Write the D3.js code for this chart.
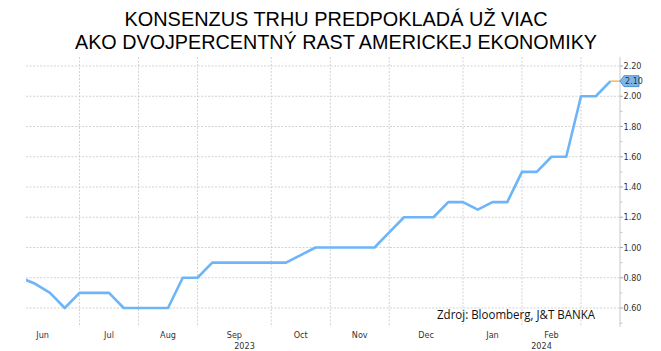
<!DOCTYPE html>
<html>
<head>
<meta charset="utf-8">
<script src="https://cdn.jsdelivr.net/npm/d3@7"></script>
<style>
  html, body { margin: 0; padding: 0; background: #fff; }
  svg { display: block; }
  .axis-text { font-family: "Liberation Sans Narrow", "Arial Narrow", "DejaVu Sans Condensed", sans-serif; font-size: 9px; fill: #333; }
</style>
</head>
<body>
<div id="chart"></div>
<script>
// weekly observations (Fridays)
const dates = [
  "2023-06-09", "2023-06-16", "2023-06-23", "2023-06-30",
  "2023-07-07", "2023-07-14", "2023-07-21", "2023-07-28",
  "2023-08-04", "2023-08-11", "2023-08-18", "2023-08-25",
  "2023-09-01", "2023-09-08", "2023-09-15", "2023-09-22", "2023-09-29",
  "2023-10-06", "2023-10-13", "2023-10-20", "2023-10-27",
  "2023-11-03", "2023-11-10", "2023-11-17", "2023-11-24",
  "2023-12-01", "2023-12-08", "2023-12-15", "2023-12-22", "2023-12-29",
  "2024-01-05", "2024-01-12", "2024-01-19", "2024-01-26",
  "2024-02-02", "2024-02-09", "2024-02-16", "2024-02-23",
  "2024-03-01", "2024-03-08", "2024-03-15"
];
const gdpConsensus = [
  0.80, 0.76, 0.70, 0.60,
  0.70, 0.70, 0.70, 0.60,
  0.60, 0.60, 0.60, 0.80,
  0.80, 0.90, 0.90, 0.90, 0.90,
  0.90, 0.90, 0.95, 1.00,
  1.00, 1.00, 1.00, 1.00,
  1.10, 1.20, 1.20, 1.20, 1.30,
  1.30, 1.25, 1.30, 1.30,
  1.50, 1.50, 1.60, 1.60,
  2.00, 2.00, 2.10
];
const monthLabels = ["Jun", "Jul", "Aug", "Sep", "Oct", "Nov", "Dec", "Jan", "Feb", "Mar"];
const monthStarts = ["2023-06-01", "2023-07-01", "2023-08-01", "2023-09-01", "2023-10-01",
                     "2023-11-01", "2023-12-01", "2024-01-01", "2024-02-01", "2024-03-01"];
const yearLabels = ["2023", "2024"];
const yTicks = [0.6, 0.8, 1.0, 1.2, 1.4, 1.6, 1.8, 2.0, 2.2];
const yMinorTicks = [0.5, 0.7, 0.9, 1.1, 1.3, 1.5, 1.7, 1.9, 2.1];
const titleLines = ["KONSENZUS TRHU PREDPOKLADÁ UŽ VIAC", "AKO DVOJPERCENTNÝ RAST AMERICKEJ EKONOMIKY"];
const sourceText = "Zdroj: Bloomberg, J&T BANKA";

const W = 661, H = 351;
const plot = { left: 26, right: 620, top: 57, bottom: 327 };

const svg = d3.select("#chart").append("svg")
  .attr("width", W).attr("height", H);

// title (one text element, two lines)
svg.append("text")
  .attr("text-anchor", "middle")
  .attr("font-family", "'Liberation Sans', Arial, sans-serif")
  .attr("font-size", 21)
  .attr("fill", "#000")
  .selectAll("tspan")
  .data(titleLines)
  .enter().append("tspan")
  .attr("x", 336)
  .attr("y", (d, i) => 25.5 + i * 23.5)
  .attr("textLength", (d, i) => i === 0 ? 423 : 522)
  .attr("lengthAdjust", "spacingAndGlyphs")
  .text(d => d);

// scales: index based (Bloomberg-style weekly axis)
const parse = d3.timeParse("%Y-%m-%d");
const t0 = parse(dates[0]);
const weekIndex = s => (parse(s) - t0) / (7 * 864e5);

const x = d3.scaleLinear()
  .domain([0, gdpConsensus.length - 1])
  .range([20.5, 610.5]);

const y = d3.scaleLinear()
  .domain([0.6, 2.2])
  .range([308, 66]);

const monthIdx = monthStarts.map(s => Math.ceil(weekIndex(s) - 1e-9));

// grid
const grid = svg.append("g");
grid.selectAll(".hgrid")
  .data(yTicks)
  .enter().append("line")
  .attr("x1", plot.left).attr("x2", plot.right)
  .attr("y1", d => y(d)).attr("y2", d => y(d))
  .attr("stroke", "#c8c8c8")
  .attr("stroke-width", 0.8)
  .attr("stroke-dasharray", "2,1.5");

grid.selectAll(".vgrid")
  .data(monthIdx.slice(1))
  .enter().append("line")
  .attr("x1", d => x(d)).attr("x2", d => x(d))
  .attr("y1", plot.top).attr("y2", plot.bottom)
  .attr("stroke", "#c8c8c8")
  .attr("stroke-width", 0.8)
  .attr("stroke-dasharray", "2,1.5");

// line
svg.append("clipPath").attr("id", "clip")
  .append("rect")
  .attr("x", plot.left).attr("y", plot.top)
  .attr("width", plot.right - plot.left)
  .attr("height", plot.bottom - plot.top);

const line = d3.line()
  .x((d, i) => x(i))
  .y(d => y(d));

svg.append("path")
  .datum(gdpConsensus)
  .attr("clip-path", "url(#clip)")
  .attr("fill", "none")
  .attr("stroke", "#6db5f8")
  .attr("stroke-width", 2.6)
  .attr("stroke-linejoin", "round")
  .attr("d", line);

// right axis
const yAxis = svg.append("g").attr("class", "axis-text");
yAxis.append("line")
  .attr("x1", plot.right).attr("x2", plot.right)
  .attr("y1", plot.top).attr("y2", plot.bottom)
  .attr("stroke", "#bbb").attr("stroke-width", 0.8);

yAxis.selectAll(".minor")
  .data(yMinorTicks)
  .enter().append("line")
  .attr("x1", plot.right).attr("x2", plot.right + 2.5)
  .attr("y1", d => y(d)).attr("y2", d => y(d))
  .attr("stroke", "#bbb").attr("stroke-width", 0.8);

yAxis.selectAll(".major")
  .data(yTicks)
  .enter().append("line")
  .attr("x1", plot.right).attr("x2", plot.right + 3)
  .attr("y1", d => y(d)).attr("y2", d => y(d))
  .attr("stroke", "#999").attr("stroke-width", 0.8);

yAxis.selectAll("text")
  .data(yTicks)
  .enter().append("text")
  .attr("class", "axis-text")
  .attr("x", plot.right + 3.5)
  .attr("y", d => y(d))
  .attr("dy", "0.35em")
  .text(d3.format(".2f"));

// last value marker
const last = gdpConsensus[gdpConsensus.length - 1];
const ly = y(last);
svg.append("line")
  .attr("x1", x(gdpConsensus.length - 1)).attr("x2", plot.right)
  .attr("y1", ly).attr("y2", ly)
  .attr("stroke", "#f5a623").attr("stroke-width", 1.2);

svg.append("path")
  .attr("d", `M${plot.right},${ly} L${plot.right + 4},${ly - 5.5} L${plot.right + 19},${ly - 5.5} L${plot.right + 19},${ly + 5.5} L${plot.right + 4},${ly + 5.5} Z`)
  .attr("fill", "#7fb6ea")
  .attr("stroke", "#3d7fc4")
  .attr("stroke-width", 0.8);

svg.append("text")
  .attr("class", "axis-text")
  .attr("x", plot.right + 5)
  .attr("y", ly)
  .attr("dy", "0.35em")
  .attr("fill", "#10243e")
  .text(d3.format(".2f")(last));

// month labels centred within each month
const monthCentres = monthLabels.slice(0, -1).map((m, i) => ({
  label: m,
  pos: (x(monthIdx[i]) + x(monthIdx[i + 1])) / 2
}));

svg.append("g").selectAll("text")
  .data(monthCentres)
  .enter().append("text")
  .attr("class", "axis-text")
  .attr("x", d => d.pos)
  .attr("y", 338)
  .attr("text-anchor", "middle")
  .text(d => d.label);

// year labels centred within the visible part of each year
const janIdx = monthIdx[monthLabels.indexOf("Jan")];
const yearCentres = [
  (plot.left + x(janIdx)) / 2,
  (x(janIdx) + plot.right) / 2
];
svg.append("g").selectAll("text")
  .data(yearLabels)
  .enter().append("text")
  .attr("class", "axis-text")
  .attr("x", (d, i) => yearCentres[i])
  .attr("y", 349)
  .attr("text-anchor", "middle")
  .text(d => d);

// source
svg.append("text")
  .attr("x", 437)
  .attr("y", 318.5)
  .attr("font-family", "'Open Sans', 'Noto Sans', sans-serif")
  .attr("font-size", 12.5)
  .attr("fill", "#111")
  .attr("textLength", 158)
  .attr("lengthAdjust", "spacingAndGlyphs")
  .text(sourceText);
</script>
</body>
</html>
